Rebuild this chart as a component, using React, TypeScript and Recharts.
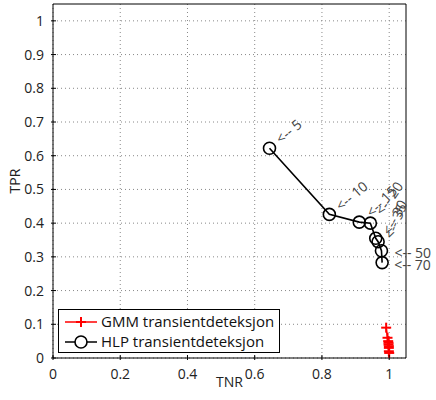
import { ScatterChart, Scatter, XAxis, YAxis, CartesianGrid, Label } from 'recharts'

// HLP transientdeteksjon: TNR / TPR per window length
const HLP_TNR = [0.644, 0.822, 0.911, 0.944, 0.96, 0.967, 0.977, 0.979]
const HLP_TPR = [0.622, 0.426, 0.403, 0.4, 0.355, 0.345, 0.318, 0.283]
const HLP_LABELS = ['5', '10', '15', '20', '30', '35', '50', '70']

// GMM transientdeteksjon
const GMM_TNR = [0.991, 0.995, 0.997, 0.998, 0.998, 0.999, 0.999, 0.999, 1.0]
const GMM_TPR = [0.09, 0.06, 0.05, 0.045, 0.04, 0.035, 0.03, 0.02, 0.015]

const X_TICKS = [0, 0.2, 0.4, 0.6, 0.8, 1]
const Y_TICKS = [0, 0.1, 0.2, 0.3, 0.4, 0.5, 0.6, 0.7, 0.8, 0.9, 1]

const FONT = '"Open Sans", sans-serif'
const DOMAIN: [number, number] = [0, 1.05]

const hlpData = HLP_TNR.map((x, i) => ({ x, y: HLP_TPR[i], label: HLP_LABELS[i] }))
const gmmData = GMM_TNR.map((x, i) => ({ x, y: GMM_TPR[i] }))

// label angle + offset per window length (MATLAB text annotations)
const LABEL_STYLE: Record<string, { angle: number; dx: number; dy: number }> = {
  '5': { angle: -40, dx: 8, dy: -8 },
  '10': { angle: -40, dx: 8, dy: -7 },
  '15': { angle: -45, dx: 9, dy: -8 },
  '20': { angle: -55, dx: 8, dy: -10 },
  '30': { angle: -62, dx: 10, dy: -5 },
  '35': { angle: -68, dx: 10, dy: -4 },
  '50': { angle: 0, dx: 13, dy: 2 },
  '70': { angle: 0, dx: 12, dy: 2 },
}

const fmt = (v: number) => String(Number(v.toFixed(1)))

const BottomTick = ({ x, y, payload }: any) => (
  <g>
    <line x1={x} y1={y} x2={x} y2={y - 5} stroke="#000" />
    <text x={x} y={y + 19} textAnchor="middle" fontSize={14} fontFamily={FONT} fill="#222">
      {fmt(payload.value)}
    </text>
  </g>
)
const TopTick = ({ x, y }: any) => <line x1={x} y1={y} x2={x} y2={y + 5} stroke="#000" />
const LeftTick = ({ x, y, payload }: any) => (
  <g>
    <line x1={x} y1={y} x2={x + 5} y2={y} stroke="#000" />
    <text x={x - 7} y={y + 5} textAnchor="end" fontSize={14} fontFamily={FONT} fill="#222">
      {fmt(payload.value)}
    </text>
  </g>
)
const RightTick = ({ x, y }: any) => <line x1={x} y1={y} x2={x - 5} y2={y} stroke="#000" />

const Circle = ({ cx, cy, payload }: any) => {
  const s = LABEL_STYLE[payload.label] ?? { angle: -45, dx: 8, dy: -8 }
  const tx = cx + s.dx
  const ty = cy + s.dy
  return (
    <g>
      <circle cx={cx} cy={cy} r={6} fill="none" stroke="#000" strokeWidth={1.6} />
      <text
        x={tx}
        y={ty}
        fontSize={14}
        fontFamily={FONT}
        fill="#444"
        dominantBaseline="central"
        transform={`rotate(${s.angle} ${tx} ${ty})`}
      >
        {'<-- ' + payload.label}
      </text>
    </g>
  )
}

const Plus = ({ cx, cy }: any) => (
  <g stroke="#ff0000" strokeWidth={2}>
    <line x1={cx - 5} y1={cy} x2={cx + 5} y2={cy} />
    <line x1={cx} y1={cy - 5} x2={cx} y2={cy + 5} />
  </g>
)

const LegendBox = () => (
  <svg width={222} height={44} style={{ display: 'block' }}>
    <rect x={0.5} y={0.5} width={221} height={43} fill="#fff" stroke="#000" />
    <line x1={7} y1={13} x2={39} y2={13} stroke="#ff0000" strokeWidth={1.5} />
    <g stroke="#ff0000" strokeWidth={2}>
      <line x1={18} y1={13} x2={28} y2={13} />
      <line x1={23} y1={8} x2={23} y2={18} />
    </g>
    <text x={43} y={18} fontSize={15} fontFamily={FONT} fill="#111">GMM transientdeteksjon</text>
    <line x1={7} y1={33} x2={39} y2={33} stroke="#000" strokeWidth={1.5} />
    <circle cx={23} cy={33} r={6} fill="#fff" stroke="#000" strokeWidth={1.6} />
    <text x={43} y={38} fontSize={15} fontFamily={FONT} fill="#111">HLP transientdeteksjon</text>
  </svg>
)

export default function App() {
  return (
    <div style={{ position: 'absolute', left: 0, top: 0, width: 436, height: 400, background: '#fff' }}>
      <ScatterChart width={436} height={400} margin={{ top: 3, right: 29, bottom: 12, left: 8 }}>
        <CartesianGrid stroke="#888" strokeDasharray="1 3" horizontalValues={Y_TICKS} verticalValues={X_TICKS} />
        <XAxis
          type="number"
          dataKey="x"
          domain={DOMAIN}
          ticks={X_TICKS}
          height={30}
          tickSize={0}
          tickLine={false}
          tick={<BottomTick />}
          axisLine={{ stroke: '#000' }}
          interval={0}
        >
          <Label
            content={({ viewBox }: any) => (
              <text
                x={viewBox.x + viewBox.width / 2}
                y={viewBox.y + 29}
                textAnchor="middle"
                fontSize={14}
                fontFamily={FONT}
                fill="#222"
              >
                TNR
              </text>
            )}
          />
        </XAxis>
        <XAxis
          xAxisId="top"
          orientation="top"
          type="number"
          domain={DOMAIN}
          ticks={X_TICKS}
          height={1}
          tickSize={0}
          tickLine={false}
          tick={<TopTick />}
          axisLine={{ stroke: '#000' }}
          interval={0}
        />
        <YAxis
          type="number"
          dataKey="y"
          domain={DOMAIN}
          ticks={Y_TICKS}
          width={45}
          tickSize={0}
          tickLine={false}
          tick={<LeftTick />}
          axisLine={{ stroke: '#000' }}
          interval={0}
        >
          <Label
            content={({ viewBox }: any) => {
              const lx = viewBox.x + 12
              const ly = viewBox.y + viewBox.height / 2
              return (
                <text
                  x={lx}
                  y={ly}
                  textAnchor="middle"
                  fontSize={14}
                  fontFamily={FONT}
                  fill="#222"
                  transform={`rotate(-90 ${lx} ${ly})`}
                >
                  TPR
                </text>
              )
            }}
          />
        </YAxis>
        <YAxis
          yAxisId="right"
          orientation="right"
          type="number"
          domain={DOMAIN}
          ticks={Y_TICKS}
          width={1}
          tickSize={0}
          tickLine={false}
          tick={<RightTick />}
          axisLine={{ stroke: '#000' }}
          interval={0}
        />
        <Scatter
          name="GMM transientdeteksjon"
          data={gmmData}
          line={{ stroke: '#ff0000', strokeWidth: 1.5 }}
          lineType="joint"
          shape={<Plus />}
          fill="#ff0000"
          isAnimationActive={false}
        />
        <Scatter
          name="HLP transientdeteksjon"
          data={hlpData}
          line={{ stroke: '#000', strokeWidth: 1.6 }}
          lineType="joint"
          shape={<Circle />}
          fill="#000"
          isAnimationActive={false}
        />
      </ScatterChart>
      <div style={{ position: 'absolute', left: 58, top: 309 }}>
        <LegendBox />
      </div>
    </div>
  )
}
